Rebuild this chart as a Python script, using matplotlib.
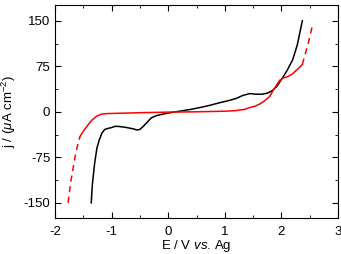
import numpy as np
import matplotlib
matplotlib.use("Agg")
import matplotlib.pyplot as plt
from matplotlib.ticker import MultipleLocator

plt.rcParams['font.family'] = ['Liberation Sans', 'DejaVu Sans']
plt.rcParams['axes.unicode_minus'] = False
plt.rcParams['mathtext.fontset'] = 'custom'
plt.rcParams['mathtext.rm'] = 'Liberation Sans'
plt.rcParams['mathtext.it'] = 'Liberation Sans:italic'

# black curve
black_E = [-1.36, -1.34, -1.30, -1.26, -1.22, -1.17, -1.12, -1.05, -1.00, -0.94, -0.89,
           -0.80, -0.73, -0.62, -0.55, -0.50, -0.44, -0.38, -0.30, -0.20, -0.10, 0.00,
           0.20, 0.40, 0.61, 0.75, 0.91, 1.05, 1.20, 1.32, 1.44, 1.55, 1.66, 1.76,
           1.84, 1.92, 2.02, 2.10, 2.20, 2.28, 2.37]
black_j = [-150, -120, -85, -60, -47, -35, -29, -27, -26, -24, -24,
           -25, -26, -28, -30, -29, -24, -18, -10, -6, -4, -2,
           1, 4, 8, 11, 15, 18, 22, 27, 30, 29, 29, 31,
           35, 42, 56, 68, 86, 110, 150]

# red curve, solid part
red_E = [-1.56, -1.50, -1.42, -1.34, -1.26, -1.18, -1.10, -0.90, -0.50, 0.00, 0.50,
         1.00, 1.20, 1.35, 1.44, 1.53, 1.62, 1.70, 1.79, 1.88, 1.97, 2.04, 2.11,
         2.19, 2.27, 2.33, 2.37]
red_j = [-41, -32, -22, -13, -7, -4, -3, -2.5, -1.5, -0.5, 0,
         1, 2, 4, 7, 9, 13, 18, 25, 39, 52, 56, 58,
         62, 69, 74, 78]

# red curve, dashed ends
red_lo_E = [-1.77, -1.72, -1.65, -1.60, -1.56]
red_lo_j = [-150, -115, -76, -55, -41]
red_hi_E = [2.37, 2.42, 2.48, 2.55]
red_hi_j = [78, 95, 115, 143]

fig = plt.figure(figsize=(3.41, 2.54), dpi=100)
ax = fig.add_axes([55 / 341, 1 - 218 / 254, 283 / 341, 213 / 254])

ax.plot(black_E, black_j, color='black', lw=1.1)
ax.plot(red_E, red_j, color='red', lw=1.1)
ax.plot(red_lo_E, red_lo_j, color='red', lw=1.1, ls=(0, (4, 3)))
ax.plot(red_hi_E, red_hi_j, color='red', lw=1.1, ls=(0, (4, 3)))

ax.set_xlim(-2, 3)
ax.set_ylim(-175, 176)
ax.xaxis.set_major_locator(MultipleLocator(1))
ax.xaxis.set_minor_locator(MultipleLocator(0.5))
ax.yaxis.set_major_locator(MultipleLocator(75))
ax.yaxis.set_minor_locator(MultipleLocator(37.5))
ax.tick_params(which='both', direction='in', top=True, right=True, labelsize=9.5)
ax.tick_params(which='major', length=4)
ax.tick_params(which='minor', length=2.5)
ax.tick_params(axis='x', pad=6)

ax.set_xlabel(r'E / V $\it{vs}$. Ag', fontsize=9.5, labelpad=0)
ax.set_ylabel(r'j / ($\mu$A cm$^{-2}$)', fontsize=9.5)
ax.yaxis.set_label_coords(-0.13, 0.5)

fig.savefig('out.png', dpi=100)
